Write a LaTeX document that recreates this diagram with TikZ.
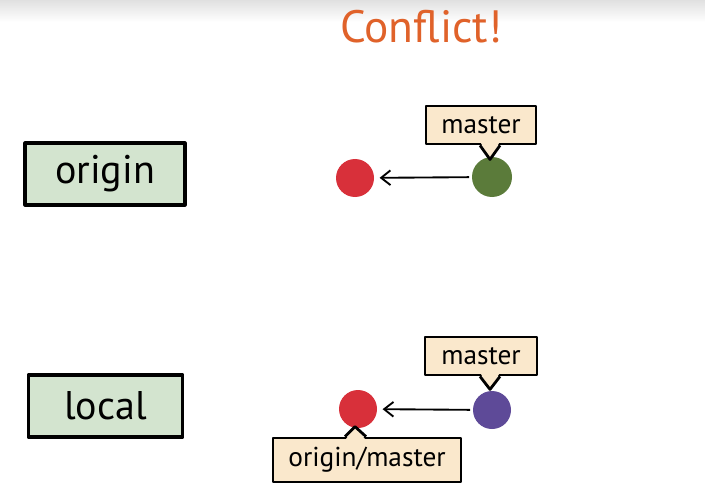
\documentclass[tikz,border=0pt]{standalone}
\usepackage{fontspec}
\setmainfont{PT Sans}
\usetikzlibrary{arrows.meta,calc}
\definecolor{boxgreen}{HTML}{D3E4CF}
\definecolor{tagbeige}{HTML}{FAE8CC}
\definecolor{cred}{HTML}{D8303A}
\definecolor{cgreen}{HTML}{5B7B3A}
\definecolor{cpurple}{HTML}{5E4A98}
\definecolor{torange}{HTML}{E0622A}
\begin{document}
\begin{tikzpicture}[x=0.75pt,y=-0.75pt,
  repobox/.style={draw=black,fill=boxgreen,line width=2.3pt,line join=round,rectangle,
     inner sep=0pt,font=\fontsize{30}{30}\selectfont},
  tagbox/.style={draw=black,fill=tagbeige,line width=2.1pt,line join=round,rectangle,
     inner sep=0pt,font=\fontsize{20.5}{20}\selectfont},
  tagedge/.style={line width=2.1pt,line join=round},
  commit/.style={circle,inner sep=0pt,minimum size=#1},
  link/.style={line width=1.4pt,-{Straight Barb[length=7pt,width=11pt,line width=1.4pt]},shorten <=2pt,shorten >=4pt}
]
\useasboundingbox (0,0) rectangle (705,495);
\fill[white] (0,0) rectangle (705,495);
\shade[top color=black!12,bottom color=white] (0,0) rectangle (705,22);

\node[text=torange,font=\fontsize{34}{34}\selectfont] (title) at (421,27) {Conflict!};

\node[repobox,minimum width=120pt,minimum height=46.5pt] (origin) at (105,174) {origin};
\node[repobox,minimum width=116pt,minimum height=46.5pt] (local) at (105.5,406) {local};

% top row
\node[commit=28.5pt,fill=cred] (r1) at (355,178) {};
\node[commit=30pt,fill=cgreen] (g1) at (492,177) {};
\draw[link] (g1) -- (r1);
\node[tagbox,minimum width=82.5pt,minimum height=28.5pt] (m1) at (481,125) {master};
\coordinate (m1a) at ($(m1.south)+(-1,0)$);
\coordinate (m1b) at ($(m1.south)+(19,0)$);
\coordinate (m1t) at ($(m1.south)+(9,14)$);
\fill[tagbeige] ($(m1a)+(0.6,-3)$) -- ($(m1b)+(-0.6,-3)$) -- (m1t) -- cycle;
\draw[tagedge] (m1a) -- (m1t) -- (m1b);

% bottom row
\node[commit=28.5pt,fill=cred] (r2) at (358,409) {};
\node[commit=28.5pt,fill=cpurple] (p2) at (492,410) {};
\draw[link] (p2) -- (r2);
\node[tagbox,minimum width=84pt,minimum height=28.5pt] (m2) at (481,356) {master};
\coordinate (m2a) at ($(m2.south)+(-1,0)$);
\coordinate (m2b) at ($(m2.south)+(19,0)$);
\coordinate (m2t) at ($(m2.south)+(9,13)$);
\fill[tagbeige] ($(m2a)+(0.6,-3)$) -- ($(m2b)+(-0.6,-3)$) -- (m2t) -- cycle;
\draw[tagedge] (m2a) -- (m2t) -- (m2b);

\node[tagbox,minimum width=141pt,minimum height=33pt] (om) at (367,460) {origin/master};
\coordinate (oma) at ($(om.north)+(-22,0)$);
\coordinate (omb) at ($(om.north)+(-1,0)$);
\coordinate (omt) at ($(om.north)+(-12,-10)$);
\fill[tagbeige] ($(oma)+(0.6,3)$) -- ($(omb)+(-0.6,3)$) -- (omt) -- cycle;
\draw[tagedge] (oma) -- (omt) -- (omb);
\end{tikzpicture}
\end{document}
